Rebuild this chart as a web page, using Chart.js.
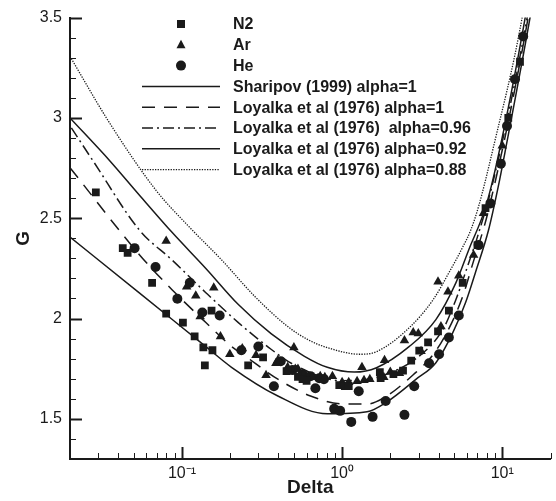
<!DOCTYPE html>
<html lang="en">
<head>
  <meta charset="UTF-8" />
  <title>G vs Delta</title>
  <script src="https://cdn.jsdelivr.net/npm/chart.js"></script>
  <style>
    body { margin: 0; background: #fff; }
    #wrap { width: 556px; height: 501px; }
  </style>
</head>
<body>
  <div id="wrap"><canvas id="chart" width="556" height="501"></canvas></div>
  <script>
    // measured points, [Delta, G]
    const n2 = [[0.029,2.629],[0.0427,2.351],[0.0458,2.327],[0.0651,2.178],[0.0797,2.025],[0.1014,1.98],
      [0.120,1.911],[0.136,1.856],[0.139,1.767],[0.153,2.04],[0.155,1.842],[0.259,1.767],[0.321,1.807],
      [0.45,1.738],[0.53,1.71],[0.566,1.698],[0.6,1.69],[0.96,1.668],[1.04,1.663],[1.1,1.663],[1.72,1.733],
      [1.74,1.703],[2.09,1.723],[2.4,1.74],[2.7,1.79],[3.03,1.84],[3.44,1.881],[3.97,1.936],[4.64,2.04],
      [5.66,2.178],[7.0,2.366],[7.86,2.55],[10.9,3.0],[12.9,3.28]];
    const ar = [[0.0797,2.386],[0.107,2.158],[0.122,2.114],[0.130,2.01],[0.158,2.153],[0.174,1.911],
      [0.199,1.822],[0.238,1.851],[0.29,1.817],[0.335,1.718],[0.386,1.777],[0.397,1.792],[0.457,1.757],
      [0.50,1.856],[0.51,1.748],[0.53,1.748],[0.65,1.708],[0.73,1.713],[0.78,1.708],[0.87,1.713],[1.0,1.683],
      [1.10,1.683],[1.24,1.688],[1.33,1.757],[1.37,1.693],[1.49,1.698],[1.82,1.708],[1.84,1.792],[2.0,1.733],
      [2.28,1.728],[2.45,1.891],[2.78,1.931],[2.99,1.926],[3.11,1.837],[3.97,2.183],[4.14,1.96],[4.58,2.134],
      [5.35,2.213],[6.62,2.317],[7.63,2.525],[10.0,2.861]];
    const he = [[0.0506,2.351],[0.0684,2.257],[0.0936,2.099],[0.112,2.178],[0.134,2.03],[0.172,2.015],
      [0.235,1.842],[0.30,1.861],[0.375,1.663],[0.414,1.787],[0.49,1.743],[0.566,1.723],[0.635,1.713],
      [0.681,1.653],[0.72,1.703],[0.77,1.698],[0.892,1.55],[0.972,1.54],[1.14,1.485],[1.27,1.638],
      [1.55,1.51],[1.87,1.589],[2.45,1.52],[2.82,1.663],[3.49,1.777],[4.03,1.822],[4.64,1.906],[5.35,2.015],
      [7.12,2.366],[8.43,2.574],[9.8,2.772],[10.7,2.96],[12.0,3.193],[13.5,3.406]];

    // theory curves, [Delta, G]
    const sharipov = [[0.02,2.406],[0.0544,2.127],[0.141,1.86],[0.204,1.757],[0.397,1.614],[0.808,1.525],
      [1.43,1.535],[1.9,1.584],[2.9,1.698],[3.85,1.78],[4.91,1.93],[5.9,2.08],[6.8,2.23],[8.2,2.44],
      [9.45,2.66],[10.4,2.83],[14.9,3.5],[16,3.65]];
    const loy100 = [[0.02,2.752],[0.0544,2.317],[0.0867,2.144],[0.141,1.98],[0.204,1.861],[0.249,1.812],
      [0.397,1.698],[0.635,1.614],[1.03,1.574],[1.43,1.574],[1.9,1.614],[2.78,1.72],[3.7,1.82],[4.64,1.95],
      [5.66,2.11],[6.52,2.27],[8.2,2.54],[14.5,3.5],[15.5,3.65]];
    const loy096 = [[0.0204,2.95],[0.0278,2.787],[0.0544,2.44],[0.0867,2.292],[0.141,2.129],[0.225,1.98],
      [0.36,1.847],[0.5,1.77],[1.0,1.69],[1.5,1.70],[2.0,1.73],[3.0,1.81],[4.26,1.946],[5.13,2.094],
      [6.17,2.277],[6.99,2.406],[8.7,2.673],[14.3,3.5],[15.3,3.65]];
    const loy092 = [[0.02,3.0],[0.0354,2.787],[0.0543,2.615],[0.0867,2.43],[0.141,2.25],[0.225,2.07],
      [0.36,1.925],[0.582,1.812],[0.808,1.757],[1.19,1.733],[1.64,1.755],[2.63,1.861],[3.85,1.995],
      [5.13,2.178],[6.17,2.342],[7.86,2.554],[9.3,2.787],[13.9,3.5],[14.9,3.65]];
    const loy088 = [[0.02,3.307],[0.035,2.98],[0.0689,2.639],[0.110,2.46],[0.177,2.292],[0.286,2.109],
      [0.458,1.96],[0.608,1.896],[0.808,1.855],[1.29,1.822],[1.64,1.835],[2.63,1.955],[3.7,2.094],
      [4.64,2.228],[5.66,2.356],[6.35,2.44],[7.12,2.56],[8.7,2.837],[13.3,3.5],[14.2,3.65]];

    const seriesNames = ['N2', 'Ar', 'He', 'Sharipov (1999) alpha=1', 'Loyalka et al (1976) alpha=1',
      'Loyalka et al (1976)  alpha=0.96', 'Loyalka et al (1976) alpha=0.92', 'Loyalka et al (1976) alpha=0.88'];
    const yTicks = [1.5, 2, 2.5, 3, 3.5];
    const xTicks = [0.1, 1, 10];
    const xTickLabels = ['10\u207B\u00B9', '10\u2070', '10\u00B9'];

    const ink = '#1a1a1a';
    const font = '"Liberation Sans", Arial, sans-serif';
    const pts = a => a.map(p => ({ x: p[0], y: p[1] }));

    function markers(label, data, style, r) {
      return { label, data: pts(data), showLine: false, pointStyle: style, pointRadius: r,
        pointHoverRadius: r, backgroundColor: ink, borderColor: ink, borderWidth: 0 };
    }
    function curve(label, data, dash, w) {
      return { label, data: pts(data), showLine: true, pointRadius: 0, borderColor: ink,
        borderWidth: w, borderDash: dash, cubicInterpolationMode: 'monotone', fill: false };
    }

    // ticks point into the plot, so draw them by hand
    const insideTicks = {
      id: 'insideTicks',
      afterDraw(chart) {
        const { ctx, chartArea: a, scales: { x, y } } = chart;
        ctx.save();
        ctx.strokeStyle = ink;
        for (let k = 14; k <= 35; k++) {
          const major = k % 5 === 0;
          const py = Math.round(y.getPixelForValue(k / 10)) + 0.5;
          ctx.lineWidth = major ? 2 : 1;
          ctx.beginPath(); ctx.moveTo(a.left, py); ctx.lineTo(a.left + (major ? 12 : 6), py); ctx.stroke();
        }
        for (let e = -2; e <= 1; e++) {
          for (let m = 1; m <= 9; m++) {
            const v = m * Math.pow(10, e);
            if (v <= x.min * 1.001 || v > x.max) continue;
            const px = Math.round(x.getPixelForValue(v)) + 0.5;
            ctx.lineWidth = m === 1 ? 2 : 1;
            ctx.beginPath(); ctx.moveTo(px, a.bottom); ctx.lineTo(px, a.bottom - (m === 1 ? 12 : 6)); ctx.stroke();
          }
        }
        ctx.restore();
      }
    };

    // legend sits inside the plot, top middle
    const innerLegend = {
      id: 'innerLegend',
      afterDraw(chart) {
        const ctx = chart.ctx;
        const sets = chart.data.datasets;
        ctx.save();
        ctx.fillStyle = ink; ctx.strokeStyle = ink;
        ctx.font = 'bold 16px ' + font;
        ctx.textBaseline = 'middle';
        sets.forEach((ds, i) => {
          const yy = 24 + i * 20.8;
          if (!ds.showLine) {
            const cx = 181;
            ctx.beginPath();
            if (ds.pointStyle === 'rect') ctx.rect(cx - 4, yy - 4, 8, 8);
            else if (ds.pointStyle === 'triangle') {
              ctx.moveTo(cx, yy - 5); ctx.lineTo(cx + 4.5, yy + 3.5); ctx.lineTo(cx - 4.5, yy + 3.5); ctx.closePath();
            } else ctx.arc(cx, yy, 5, 0, Math.PI * 2);
            ctx.fill();
          } else {
            ctx.lineWidth = ds.borderWidth;
            ctx.setLineDash(ds.borderDash || []);
            ctx.beginPath(); ctx.moveTo(142, yy); ctx.lineTo(220, yy); ctx.stroke();
            ctx.setLineDash([]);
          }
          ctx.fillText(ds.label, 233, yy + 1);
        });
        ctx.restore();
      }
    };

    new Chart(document.getElementById('chart'), {
      type: 'scatter',
      data: {
        datasets: [
          markers(seriesNames[0], n2, 'rect', 5.5),
          markers(seriesNames[1], ar, 'triangle', 5.5),
          markers(seriesNames[2], he, 'circle', 5),
          curve(seriesNames[3], sharipov, [], 1.5),
          curve(seriesNames[4], loy100, [13, 9], 1.5),
          curve(seriesNames[5], loy096, [11, 4, 2, 4], 1.5),
          curve(seriesNames[6], loy092, [], 1.5),
          curve(seriesNames[7], loy088, [1.3, 1.3], 1.3)
        ]
      },
      options: {
        responsive: false,
        animation: false,
        layout: { padding: { top: 16, right: 0, left: 0, bottom: 0 } },
        plugins: { legend: { display: false }, tooltip: { enabled: false } },
        scales: {
          x: {
            type: 'logarithmic', min: 0.02, max: 20,
            afterBuildTicks: s => { s.ticks = xTicks.map(v => ({ value: v })); },
            afterFit: s => { s.height = 42; },
            ticks: { autoSkip: false, maxRotation: 0, padding: 5, color: ink,
              font: { family: font, size: 16 },
              callback: (v, i) => xTickLabels[i] },
            grid: { display: true, drawOnChartArea: false, drawTicks: false },
            border: { display: true, width: 2, color: ink },
            title: { display: true, text: 'Delta', color: ink, padding: { top: 0, bottom: 2 },
              font: { family: font, size: 19, weight: 'bold' } }
          },
          y: {
            min: 1.3, max: 3.5,
            afterBuildTicks: s => { s.ticks = yTicks.map(v => ({ value: v })); },
            afterFit: s => { s.width = 70; },
            ticks: { autoSkip: false, padding: 8, color: ink, font: { family: font, size: 16 },
              callback: v => String(v) },
            grid: { display: true, drawOnChartArea: false, drawTicks: false },
            border: { display: true, width: 2, color: ink },
            title: { display: true, text: 'G', color: ink, padding: { top: 12, bottom: 0 },
              font: { family: font, size: 19, weight: 'bold' } }
          }
        }
      },
      plugins: [insideTicks, innerLegend]
    });
  </script>
</body>
</html>
